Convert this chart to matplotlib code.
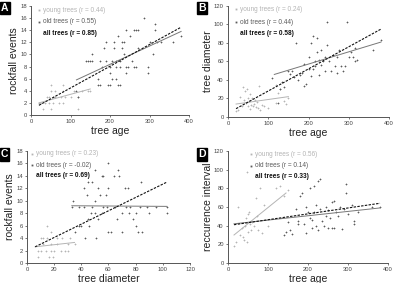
import numpy as np
import matplotlib
matplotlib.use("Agg")
import matplotlib.pyplot as plt

plt.rcParams['font.family'] = ['Liberation Sans', 'DejaVu Sans']

# ---------------- panel A: rockfall events vs tree age ----------------
a_young_x = [20, 25, 30, 35, 40, 45, 45, 50, 50, 50, 55, 55, 60, 60, 70, 75, 80, 80, 80, 85,
             100, 110, 120, 120, 130, 145, 150]
a_young_y = [2, 2, 1, 2, 3, 3, 2, 4, 5, 1, 3, 2, 4, 3, 2, 3, 4, 2, 5, 3,
             3, 4, 1, 3, 4, 4, 4]
a_old_x = [115, 120, 140, 145, 150, 155, 155, 170, 170, 175, 175, 180, 185, 190, 190, 195, 200, 200,
           200, 205, 205, 210, 210, 215, 215, 215, 220, 220, 225, 225, 225, 230, 230, 235, 235, 240,
           240, 240, 245, 250, 255, 260, 260, 265, 270, 265, 270, 285, 295, 295, 300, 310, 315, 315,
           320, 330, 360, 380]
a_old_y = [4, 3, 9, 9, 9, 10, 9, 6, 5, 9, 5, 8, 11, 12, 9, 5, 5, 8,
           7, 9, 6, 11, 12, 9, 8, 6, 13, 5, 8, 9, 5, 12, 11, 12, 10, 14,
           8, 7, 8, 13, 9, 14, 8, 14, 14, 8, 11, 16, 7, 8, 12, 10, 15, 14,
           12, 12, 12, 13]
a_fit_young = ([20, 150], [2.0, 4.3])
a_fit_old = ([115, 380], [5.8, 13.8])
a_fit_all = ([20, 380], [1.6, 14.5])
a_r = ["0.44", "0.55", "0.85"]

# ---------------- panel B: tree diameter vs tree age ----------------
b_young_x = [20, 25, 30, 35, 38, 40, 42, 45, 48, 50, 50, 52, 55, 55, 58, 60, 62, 65, 68, 70,
             72, 75, 78, 80, 85, 90, 100, 120, 125, 130, 140, 145, 150, 120]
b_young_y = [7, 8, 22, 12, 32, 18, 28, 15, 30, 20, 12, 17, 25, 9, 13, 20, 12, 14, 18, 11,
             16, 10, 34, 8, 13, 12, 10, 15, 26, 30, 17, 14, 20, 35]
b_old_x = [110, 125, 130, 135, 140, 150, 155, 160, 165, 170, 175, 180, 185, 190, 190, 195, 200, 200,
           205, 205, 210, 210, 215, 215, 220, 220, 225, 225, 230, 230, 235, 240, 240, 245, 245, 250,
           255, 260, 265, 270, 270, 275, 280, 285, 290, 295, 300, 305, 310, 315, 320, 360, 380, 315]
b_old_y = [42, 15, 30, 38, 32, 50, 47, 50, 43, 80, 40, 45, 48, 57, 33, 36, 52, 65,
           80, 44, 88, 52, 60, 55, 85, 70, 62, 45, 72, 56, 60, 65, 50, 103, 78, 60,
           50, 67, 55, 65, 48, 72, 55, 50, 55, 103, 65, 70, 65, 60, 62, 72, 83, 75]
b_fit_young = ([20, 150], [14, 22])
b_fit_old = ([115, 380], [46, 81])
b_fit_all = ([20, 380], [9, 95])
b_r = ["0.24", "0.44", "0.58"]

# ---------------- panel C: rockfall events vs tree diameter ----------------
c_young_x = [8, 10, 10, 12, 14, 15, 15, 16, 18, 18, 19, 20, 22, 22, 25, 28, 30, 30, 32, 35,
             12, 18, 26, 8]
c_young_y = [1, 2, 4, 3, 2, 6, 4, 1, 3, 5, 1, 2, 3, 4, 2, 2, 2, 3, 4, 3,
             4, 2, 4, 2]
c_old_x = [33, 34, 35, 38, 40, 42, 42, 43, 44, 45, 45, 46, 47, 48, 48, 50, 50, 51, 52, 52,
           54, 55, 55, 56, 56, 58, 59, 60, 60, 62, 64, 65, 66, 67, 68, 70, 70, 72, 73, 74,
           75, 76, 78, 80, 80, 82, 83, 84, 85, 88, 90, 95, 103, 103, 38, 60, 50]
c_old_y = [9, 10, 5, 9, 6, 9, 12, 4, 11, 13, 7, 6, 8, 9, 13, 8, 10, 4, 7, 12,
           11, 14, 8, 9, 14, 11, 9, 12, 5, 5, 14, 9, 7, 15, 14, 5, 8, 12, 9, 12,
           8, 9, 7, 6, 8, 5, 9, 13, 5, 9, 8, 9, 9, 8, 6, 16, 15]
c_fit_young = ([6, 35], [2.6, 3.3])
c_fit_old = ([33, 103], [9.2, 9.1])
c_fit_all = ([6, 103], [2.6, 13.0])
c_r = ["0.23", "-0.02", "0.69"]

# ---------------- panel D: recurrence interval vs tree age ----------------
d_young_x = [15, 20, 25, 30, 35, 38, 40, 42, 45, 48, 50, 50, 52, 55, 58, 60, 65, 70, 72, 75,
             80, 85, 90, 100, 120, 130, 140, 150, 48]
d_young_y = [18, 22, 60, 30, 38, 28, 25, 40, 48, 22, 33, 52, 55, 42, 35, 44, 40, 70, 50, 35,
             80, 32, 62, 40, 80, 82, 72, 78, 98]
d_old_x = [140, 145, 150, 155, 160, 170, 175, 175, 180, 185, 190, 195, 195, 200, 205, 205, 210, 210,
           215, 215, 220, 220, 225, 225, 230, 230, 235, 240, 245, 245, 250, 250, 255, 260, 260, 265,
           265, 270, 275, 280, 285, 290, 295, 295, 300, 310, 315, 315, 325, 360, 380]
d_old_y = [30, 33, 44, 35, 31, 58, 45, 42, 72, 75, 42, 60, 32, 55, 80, 48, 46, 38,
           82, 55, 62, 40, 88, 35, 90, 58, 45, 40, 50, 60, 38, 57, 48, 65, 37, 66,
           38, 55, 50, 60, 36, 58, 85, 75, 52, 62, 45, 42, 55, 60, 60]
d_fit_young = ([15, 145], [30, 75])
d_fit_old = ([15, 380], [42, 59])
d_fit_all = ([15, 380], [41, 64])
d_r = ["0.56", "0.14", "0.33"]

young_col = '#b4b4b4'
old_col = '#5a5a5a'
all_col = '#111111'


def draw_panel(ax, yx, yy, ox, oy, fy, fo, fa, rs, xlim, xticks, ylim, yticks,
               xlabel, ylabel, leg_x, leg_y):
    ax.plot(yx, yy, linestyle='none', marker='+', ms=1.8, mew=0.5, color=young_col)
    ax.plot(ox, oy, linestyle='none', marker='+', ms=1.8, mew=0.5, color=old_col)
    ax.plot(fy[0], fy[1], color=young_col, lw=0.7)
    ax.plot(fo[0], fo[1], color='#777777', lw=0.7)
    ax.plot(fa[0], fa[1], color=all_col, lw=0.8, dashes=(2.2, 1.2))

    ax.set_xlim(*xlim)
    ax.set_ylim(*ylim)
    ax.set_xticks(xticks)
    ax.set_yticks(yticks)
    ax.tick_params(labelsize=4.2, length=1.5, width=0.5, pad=1.5, colors='#444444')
    for s in ['top', 'right']:
        ax.spines[s].set_visible(False)
    for s in ['left', 'bottom']:
        ax.spines[s].set_color('#555555')
        ax.spines[s].set_linewidth(0.7)
    ax.set_xlabel(xlabel, fontsize=7.5, labelpad=1, color='#222222')
    ax.set_ylabel(ylabel, fontsize=7.5, labelpad=1, color='#222222')

    labels = ["young trees (r = %s)" % rs[0], "old trees (r = %s)" % rs[1],
              "all trees (r = %s)" % rs[2]]
    cols = [young_col, old_col, all_col]
    for i in range(3):
        if i < 2:
            ax.plot([leg_x], [leg_y[i]], transform=ax.transAxes, marker='s', ms=1.3,
                    color=cols[i], mew=0, clip_on=False)
        ax.text(leg_x + 0.025, leg_y[i], labels[i], transform=ax.transAxes, fontsize=4.7,
                color=cols[i], va='center', ha='left',
                weight='bold' if i == 2 else 'normal')


fig = plt.figure(figsize=(3.94, 2.83), dpi=100)
ax_a = fig.add_axes([0.0787, 0.5936, 0.401, 0.3852])
ax_b = fig.add_axes([0.5787, 0.5866, 0.4086, 0.3922])
ax_c = fig.add_axes([0.0685, 0.0707, 0.4137, 0.3957])
ax_d = fig.add_axes([0.5787, 0.0707, 0.4061, 0.3957])

draw_panel(ax_a, a_young_x, a_young_y, a_old_x, a_old_y, a_fit_young, a_fit_old, a_fit_all,
           a_r, (0, 400), [0, 100, 200, 300, 400], (0, 18), list(range(0, 19, 2)),
           'tree age', 'rockfall events', 0.05, [0.96, 0.855, 0.75])
draw_panel(ax_b, b_young_x, b_young_y, b_old_x, b_old_y, b_fit_young, b_fit_old, b_fit_all,
           b_r, (0, 400), [0, 100, 200, 300, 400], (0, 120), list(range(0, 121, 20)),
           'tree age', 'tree diameter', 0.05, [0.97, 0.855, 0.75])
draw_panel(ax_c, c_young_x, c_young_y, c_old_x, c_old_y, c_fit_young, c_fit_old, c_fit_all,
           c_r, (0, 120), list(range(0, 121, 20)), (0, 18), list(range(0, 19, 2)),
           'tree diameter', 'rockfall events', 0.03, [0.975, 0.875, 0.78])
draw_panel(ax_d, d_young_x, d_young_y, d_old_x, d_old_y, d_fit_young, d_fit_old, d_fit_all,
           d_r, (0, 400), [0, 100, 200, 300, 400], (0, 120), list(range(0, 121, 20)),
           'tree age', 'reccurence interval', 0.145, [0.97, 0.87, 0.77])

# panel letters in black boxes
for letter, x, y in [('A', 0.002, 0.99), ('B', 0.502, 0.99), ('C', 0.002, 0.472), ('D', 0.502, 0.472)]:
    fig.text(x, y, letter, fontsize=7.5, color='white', ha='left', va='top', weight='bold',
             bbox=dict(boxstyle='square,pad=0.12', fc='black', ec='black'))

fig.savefig('out.png', dpi=100)
